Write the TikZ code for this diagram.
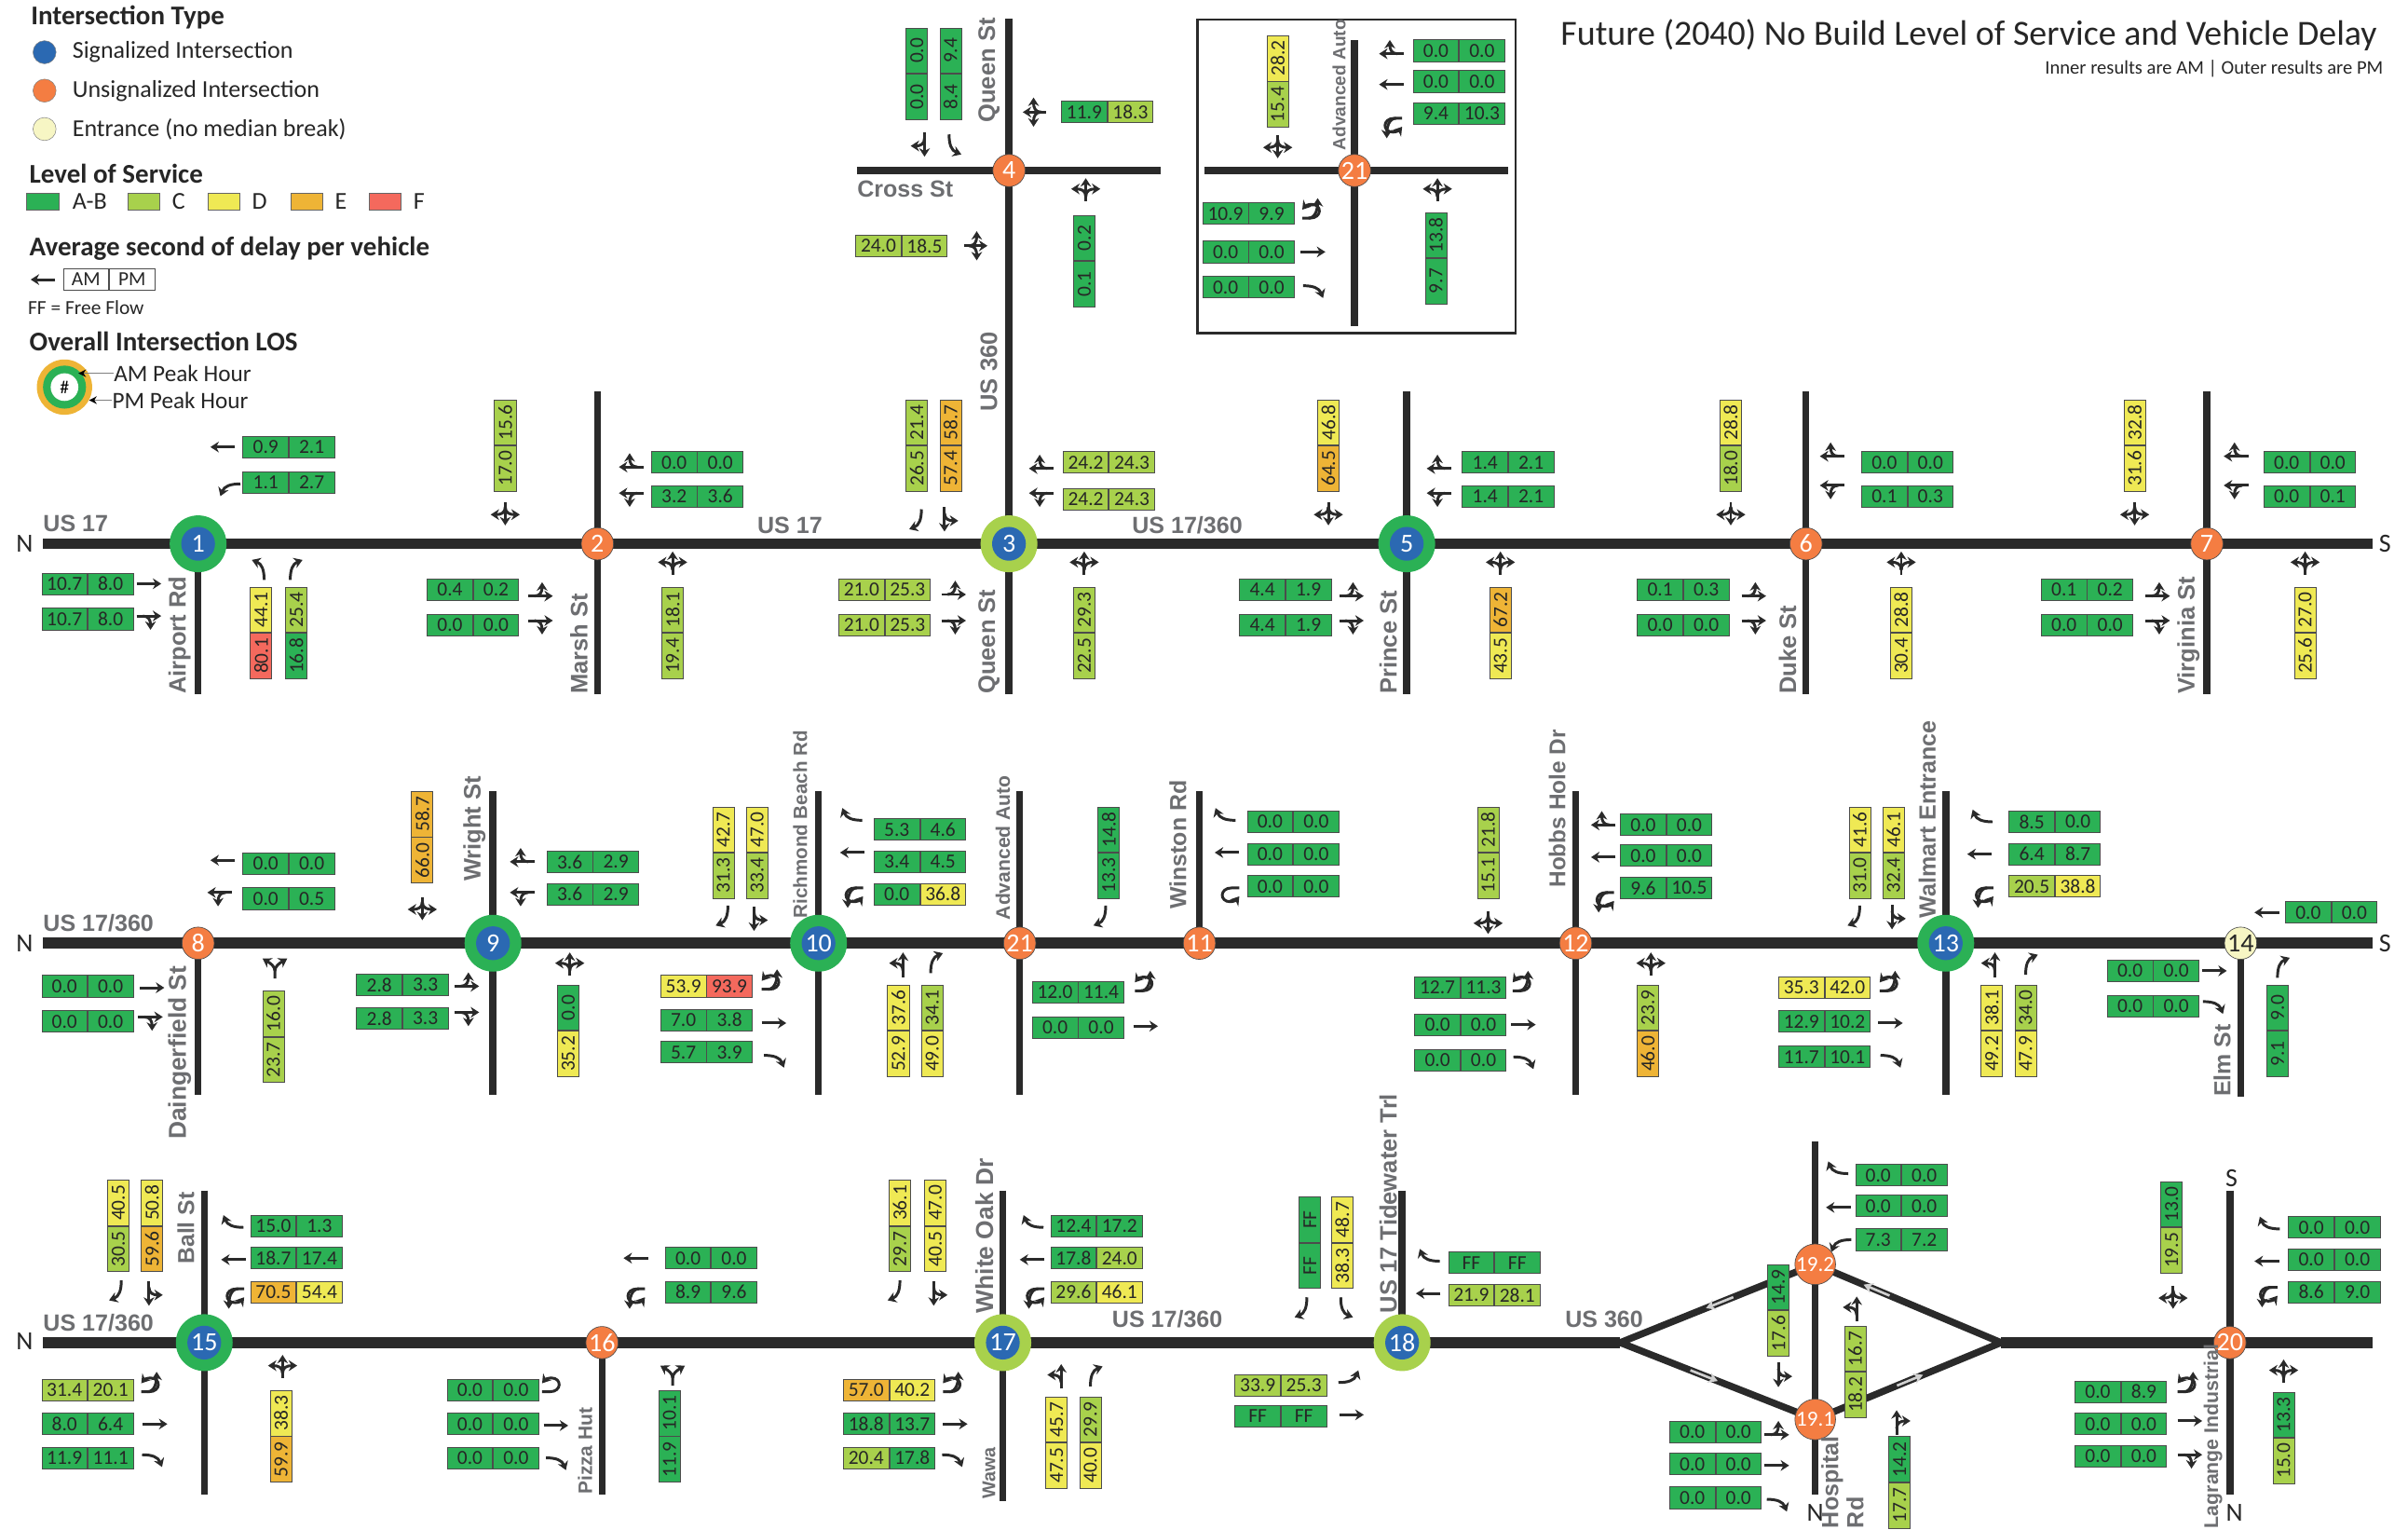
\documentclass[tikz,border=0pt]{standalone}
\usepackage{fontspec}
\setmainfont{Carlito}
\newfontfamily\roadfont{Liberation Sans}
\usetikzlibrary{arrows.meta,calc}
\definecolor{losG}{HTML}{2BB155}
\definecolor{losC}{HTML}{A8D14C}
\definecolor{losD}{HTML}{EFE954}
\definecolor{losE}{HTML}{EEB436}
\definecolor{losF}{HTML}{F4695D}
\definecolor{losW}{HTML}{FFFFFF}
\definecolor{sigblue}{HTML}{2B69B2}
\definecolor{unsig}{HTML}{F47D42}
\definecolor{cream}{HTML}{F7F6C4}
\definecolor{roadc}{HTML}{2A2A2A}
\definecolor{labc}{HTML}{6D6E71}
\newcommand\fsz[1]{\fontsize{#1}{#1}\selectfont}
\newcounter{itemno}
\newcommand\hcell[6]{\stepcounter{itemno}%
  \node[cell,fill=los#3,anchor=east] (c\theitemno a) at (#1,#2) {#4};%
  \node[cell,fill=los#5,anchor=west] (c\theitemno b) at (#1,#2) {#6};}
\newcommand\vcell[6]{\stepcounter{itemno}%
  \node[cell,rotate=90,fill=los#3,anchor=east] (c\theitemno a) at (#1,#2) {#4};%
  \node[cell,rotate=90,fill=los#5,anchor=west] (c\theitemno b) at (#1,#2) {#6};}
\newcommand\rlab[4]{\stepcounter{itemno}%
  \node[roadlab,rotate=90,anchor=west,font=\roadfont\bfseries\fsz{#3}] (r\theitemno) at (#1,#2) {#4};}
\newcommand\hlab[4]{\stepcounter{itemno}%
  \node[roadlab,anchor=west,font=\roadfont\bfseries\fsz{#3}] (r\theitemno) at (#1,#2) {#4};}
\def\rotN{0}\def\rotW{90}\def\rotS{180}\def\rotE{-90}
\newcommand\mvg[4]{\begin{scope}[shift={(#1,#2)},rotate=\csname rot#3\endcsname]\csname mvp#4\endcsname\end{scope}}
\def\mvpT{\draw[mvl] (0,8) -- (0,-8);}
\def\mvpl{\draw[mvl] (4,6.5) .. controls (4,0) and (2.5,-4) .. (-4,-6.5);}
\def\mvpr{\draw[mvl] (-4,6.5) .. controls (-4,0) and (-2.5,-4) .. (4,-6.5);}
\def\mvpTLR{\draw[mvl] (0,7) -- (0,-8);
  \draw[mvl] (0,4) .. controls (0,0) and (-3,-1) .. (-9.5,-1);
  \draw[mvl] (0,4) .. controls (0,0) and (3,-1) .. (9.5,-1);}
\def\mvpTL{\begin{scope}[shift={(4,0)}]\draw[mvl] (0,8) -- (0,-8);
  \draw[mvl] (0,4) .. controls (0,0) and (-3,-1) .. (-9,-1);\end{scope}}
\def\mvpTR{\begin{scope}[shift={(-4,0)}]\draw[mvl] (0,8) -- (0,-8);
  \draw[mvl] (0,4) .. controls (0,0) and (3,-1) .. (9,-1);\end{scope}}
\def\mvpUL{\draw[mvl] (4,7) -- (4,2) .. controls (4,-6) and (-5,-6) .. (-5,1) .. controls (-5,3) and (-4,5) .. (-1.5,7);
  \draw[mvl] (4,3) .. controls (4,-2) and (-3,-3) .. (-9,-3);}
\def\mvpU{\draw[mvl] (4,7) -- (4,2) .. controls (4,-6) and (-5,-6) .. (-5,1) .. controls (-5,3) and (-4,5) .. (-1.5,7);}
\def\mvpY{\draw[mvl] (0,7) -- (0,2) .. controls (0,-1) and (-3,-3) .. (-8,-6);
  \draw[mvl] (0,2) .. controls (0,-1) and (3,-3) .. (8,-6);}
\begin{document}
\begin{tikzpicture}[x=1pt,y=-1pt,
  cell/.style={draw=black!70,line width=0.5pt,minimum width=29.5pt,minimum height=14pt,inner sep=0pt,text=black!85,font=\fsz{13}},
  roadlab/.style={text=labc,inner sep=0pt},
  mainroad/.style={line width=7pt,roadc},
  minorroad/.style={line width=4.5pt,roadc},
  ramp/.style={line width=4.5pt,roadc},
  mvl/.style={line width=1.8pt,roadc,-{Stealth[length=5.5pt,width=7pt]}},
  gar/.style={line width=1.6pt,black!18,-{Stealth[length=6pt,width=7pt]}},
  unsignode/.style={circle,fill=unsig,draw=black!70,line width=0.4pt,minimum size=21pt,inner sep=0pt,text=white,font=\fsz{17}},
  signode/.style={circle,fill=sigblue,minimum size=22pt,inner sep=0pt,text=white,font=\fsz{17}},
  ringG/.style={circle,fill=losG,minimum size=37pt,inner sep=0pt},
  ringC/.style={circle,fill=losC,minimum size=37pt,inner sep=0pt},
  legtext/.style={anchor=west,inner sep=0pt,text=black!85,font=\fsz{15.8}},
  leghead/.style={anchor=west,inner sep=0pt,text=black!85,font=\bfseries\fsz{17.6}},
  swatch/.style={draw=black!60,line width=0.4pt,minimum width=21pt,minimum height=11pt,inner sep=0pt,anchor=west},
  dirlab/.style={inner sep=0pt,text=black!85,font=\fsz{17}},
  frame/.style={draw=roadc,line width=1.6pt}]
\fill[white] (0,0) rectangle (1568,995.4);
\useasboundingbox (0,0) rectangle (1568,995.4);

% ---------- road geometry
\coordinate (p1) at (129,354); \coordinate (p2) at (389,354); \coordinate (p3) at (657,354);
\coordinate (p4) at (657,111); \coordinate (p5) at (916,354); \coordinate (p6) at (1176,354);
\coordinate (p7) at (1437,354); \coordinate (p8) at (129,614); \coordinate (p9) at (321,614);
\coordinate (p10) at (533,614); \coordinate (p21) at (664,614); \coordinate (p11) at (781,614);
\coordinate (p12) at (1026,614); \coordinate (p13) at (1267,614); \coordinate (p14) at (1459,614);
\coordinate (p15) at (133,874); \coordinate (p16) at (392,874); \coordinate (p17) at (653,874);
\coordinate (p18) at (913,874); \coordinate (p192) at (1182,823); \coordinate (p191) at (1182,924);
\coordinate (p20) at (1452,874); \coordinate (pi21) at (882,111);
\coordinate (dL) at (1055,874); \coordinate (dR) at (1303,874);
\coordinate (m1a) at (28,354); \coordinate (m1b) at (1545,354);
\coordinate (m2a) at (28,614); \coordinate (m2b) at (1545,614);
\coordinate (m3a) at (28,874); \coordinate (m3b) at (1545,874);

\draw[mainroad] (m1a) -- (m1b);
\draw[mainroad] (m2a) -- (m2b);
\draw[mainroad] (m3a) -- (dL);
\draw[mainroad] (dR) -- (m3b);
\draw[ramp,line join=miter] (dL) -- (p192) -- (dR) -- (p191) -- cycle;
\draw[gar] ($(p192)!0.42!(dL)$) -- ($(p192)!0.56!(dL)$);
\draw[gar] ($(dL)!0.36!(p191)$) -- ($(dL)!0.50!(p191)$);
\draw[gar] ($(dR)!0.60!(p192)$) -- ($(dR)!0.74!(p192)$);
\draw[gar] ($(p191)!0.44!(dR)$) -- ($(p191)!0.58!(dR)$);

\foreach \xx/\ya/\yb in {129/354/452,389/255/452,657/12/452,916/255/452,1176/255/452,1437/255/452,
  129/614/713,321/515/713,533/515/713,664/515/713,781/515/614,1026/515/713,1267/515/713,1459/614/714,
  133/775/973,392/874/973,653/775/977,913/775/874,1182/743/973,1452/775/973}
  {\draw[minorroad] (\xx,\ya) -- (\xx,\yb);}
\coordinate (cw) at (558,111); \coordinate (ce) at (756,111);
\draw[minorroad] (cw) -- (ce);
\node[frame,anchor=north west,minimum width=207pt,minimum height=204pt,inner sep=0pt] (inset) at (779,12) {};
\coordinate (iw) at (784,111); \coordinate (ie) at (982,111); \coordinate (in) at (882,26); \coordinate (is) at (882,212);
\draw[minorroad] (iw) -- (ie);
\draw[minorroad] (in) -- (is);

% ---------- intersection nodes
\node[ringG] (o1) at (p1) {}; \node[signode] (n1) at (p1) {1};
\node[unsignode] (n2) at (p2) {2};
\node[ringC] (o3) at (p3) {}; \node[signode] (n3) at (p3) {3};
\node[unsignode] (n4) at (p4) {4};
\node[ringG] (o5) at (p5) {}; \node[signode] (n5) at (p5) {5};
\node[unsignode] (n6) at (p6) {6};
\node[unsignode] (n7) at (p7) {7};
\node[unsignode] (n8) at (p8) {8};
\node[ringG] (o9) at (p9) {}; \node[signode] (n9) at (p9) {9};
\node[ringG] (o10) at (p10) {}; \node[signode] (n10) at (p10) {10};
\node[unsignode] (n21b) at (p21) {21};
\node[unsignode] (n11) at (p11) {11};
\node[unsignode] (n12) at (p12) {12};
\node[ringG] (o13) at (p13) {}; \node[signode] (n13) at (p13) {13};
\node[unsignode,fill=cream,text=black!85] (n14) at (p14) {14};
\node[ringG] (o15) at (p15) {}; \node[signode] (n15) at (p15) {15};
\node[unsignode] (n16) at (p16) {16};
\node[ringC] (o17) at (p17) {}; \node[signode] (n17) at (p17) {17};
\node[ringC] (o18) at (p18) {}; \node[signode] (n18) at (p18) {18};
\node[unsignode,font=\fsz{14}] (n192) at (p192) {19.2};
\node[unsignode,font=\fsz{14}] (n191) at (p191) {19.1};
\node[unsignode] (n20) at (p20) {20};
\node[unsignode] (n21) at (pi21) {21};

% ---------- legend
\node[leghead] (l1) at (20,11) {Intersection Type};
\node[circle,fill=sigblue,draw=black!50,line width=0.3pt,minimum size=15pt,inner sep=0pt] (k1) at (29,34) {};
\node[circle,fill=unsig,draw=black!50,line width=0.3pt,minimum size=15pt,inner sep=0pt] (k2) at (29,59) {};
\node[circle,fill=cream,draw=black!50,line width=0.3pt,minimum size=15pt,inner sep=0pt] (k3) at (29,84) {};
\node[legtext] (t1) at (47,34) {Signalized Intersection};
\node[legtext] (t2) at (47,59) {Unsignalized Intersection};
\node[legtext] (t3) at (47,84) {Entrance (no median break)};
\node[leghead] (l2) at (19,113) {Level of Service};
\node[swatch,fill=losG] (s1) at (17,131) {}; \node[legtext] (s1t) at (47,131) {A-B};
\node[swatch,fill=losC] (s2) at (83,131) {}; \node[legtext] (s2t) at (112,131) {C};
\node[swatch,fill=losD] (s3) at (135,131) {}; \node[legtext] (s3t) at (164,131) {D};
\node[swatch,fill=losE] (s4) at (189,131) {}; \node[legtext] (s4t) at (218,131) {E};
\node[swatch,fill=losF] (s5) at (240,131) {}; \node[legtext] (s5t) at (269,131) {F};
\node[leghead] (l3) at (19,162) {Average second of delay per vehicle};
\mvg{28}{182}{W}{T}
\hcell{71}{182}{W}{AM}{W}{PM}
\node[anchor=west,inner sep=0pt,text=black!85,font=\fsz{13}] (ff) at (18,200) {FF = Free Flow};
\node[leghead] (l4) at (19,222) {Overall Intersection LOS};
\node[circle,fill=losE,minimum size=36pt,inner sep=0pt] (q1) at (42,252) {};
\node[circle,fill=losG,minimum size=28pt,inner sep=0pt] (q2) at (42,252) {};
\node[circle,fill=white,minimum size=18pt,inner sep=0pt,font=\fsz{12}] (q3) at (42,252) {\#};
\node[legtext,font=\fsz{15.3}] (am) at (74,243) {AM Peak Hour};
\node[legtext,font=\fsz{15.3}] (pm) at (73,260.5) {PM Peak Hour};
\coordinate (amt) at (51,243); \coordinate (pmt) at (58,260.5);
\draw[black!50,line width=0.7pt,-{Stealth[length=5pt,width=5pt,black]}] (am.west) -- (amt);
\draw[black!50,line width=0.7pt,-{Stealth[length=5pt,width=5pt,black]}] (pm.west) -- (pmt);
\node[anchor=east,inner sep=0pt,text=black!85,font=\fsz{23}] (title) at (1548,23) {Future (2040) No Build Level of Service and Vehicle Delay};
\node[anchor=east,inner sep=0pt,text=black!85,font=\fsz{12.5}] (sub) at (1552,45) {Inner results are AM | Outer results are PM};

% ---------- direction letters
\node[dirlab] (d1) at (16,354) {N}; \node[dirlab] (d2) at (1553,354) {S};
\node[dirlab] (d3) at (16,614) {N}; \node[dirlab] (d4) at (1553,614) {S};
\node[dirlab] (d5) at (16,873) {N}; \node[dirlab] (d6) at (1453,767) {S};
\node[dirlab] (d7) at (1455,985) {N}; \node[dirlab] (d8) at (1182,985) {N};

% ---------- road labels
\hlab{28}{341}{15.2}{US 17} \hlab{493}{342}{15.2}{US 17} \hlab{737}{342}{15.2}{US 17/360}
\hlab{28}{601}{15.2}{US 17/360} \hlab{28}{861}{15.2}{US 17/360} \hlab{724}{859}{15.2}{US 17/360}
\hlab{1019}{859}{15.2}{US 360} \hlab{558}{123}{15.2}{Cross St}
\rlab{117}{452}{15.5}{Airport Rd} \rlab{377}{452}{15.5}{Marsh St} \rlab{644}{452}{15.5}{Queen St}
\rlab{644}{80}{15.5}{Queen St} \rlab{644}{268}{15.5}{US 360} \rlab{904}{452}{15.5}{Prince St}
\rlab{1164}{452}{15.5}{Duke St} \rlab{1425}{452}{15.5}{Virginia St}
\rlab{872}{98}{11.6}{Advanced Auto}
\rlab{117}{742}{16}{Daingerfield St} \rlab{309}{574}{15.5}{Wright St} \rlab{521}{598}{12.5}{Richmond Beach Rd}
\rlab{653}{599}{12.8}{Advanced Auto} \rlab{767}{592}{15.1}{Winston Rd} \rlab{1014}{578}{14.8}{Hobbs Hole Dr}
\rlab{1255}{598}{15.2}{Walmart Entrance} \rlab{1447}{714}{15.1}{Elm St}
\rlab{121}{823}{15}{Ball St} \rlab{381}{973}{12.7}{Pizza Hut} \rlab{641}{855}{16}{White Oak Dr}
\rlab{644}{976}{12}{Wawa} \rlab{904}{855}{15.5}{US 17 Tidewater Trl}
\rlab{1193}{995}{15.2}{Hospital} \rlab{1208}{995}{15.2}{Rd} \rlab{1441}{995}{12.9}{Lagrange Industrial}

% ---------- row 1
\hcell{188}{291}{G}{0.9}{G}{2.1} \hcell{188}{314}{G}{1.1}{G}{2.7}
\hcell{57}{380}{G}{10.7}{G}{8.0} \hcell{57}{403}{G}{10.7}{G}{8.0}
\vcell{170}{412}{F}{80.1}{D}{44.1} \vcell{193}{412}{G}{16.8}{C}{25.4}
\vcell{329}{290}{C}{17.0}{C}{15.6}
\hcell{454}{301}{G}{0.0}{G}{0.0} \hcell{454}{323}{G}{3.2}{G}{3.6}
\hcell{308}{384}{G}{0.4}{G}{0.2} \hcell{308}{407}{G}{0.0}{G}{0.0}
\vcell{438}{412}{C}{19.4}{C}{18.1}
\vcell{597}{290}{C}{26.5}{C}{21.4} \vcell{619}{290}{E}{57.4}{E}{58.7}
\hcell{722}{301}{C}{24.2}{C}{24.3} \hcell{722}{325}{C}{24.2}{C}{24.3}
\hcell{576}{384}{C}{21.0}{C}{25.3} \hcell{576}{407}{C}{21.0}{C}{25.3}
\vcell{706}{412}{C}{22.5}{C}{29.3}
\vcell{865}{290}{E}{64.5}{D}{46.8}
\hcell{982}{301}{G}{1.4}{G}{2.1} \hcell{982}{323}{G}{1.4}{G}{2.1}
\hcell{837}{384}{G}{4.4}{G}{1.9} \hcell{837}{407}{G}{4.4}{G}{1.9}
\vcell{977}{412}{D}{43.5}{E}{67.2}
\vcell{1127}{290}{C}{18.0}{D}{28.8}
\hcell{1242}{301}{G}{0.0}{G}{0.0} \hcell{1242}{323}{G}{0.1}{G}{0.3}
\hcell{1096}{384}{G}{0.1}{G}{0.3} \hcell{1096}{407}{G}{0.0}{G}{0.0}
\vcell{1238}{412}{D}{30.4}{D}{28.8}
\vcell{1390}{290}{D}{31.6}{D}{32.8}
\hcell{1504}{301}{G}{0.0}{G}{0.0} \hcell{1504}{323}{G}{0.0}{G}{0.1}
\hcell{1359}{384}{G}{0.1}{G}{0.2} \hcell{1359}{407}{G}{0.0}{G}{0.0}
\vcell{1501}{412}{D}{25.6}{D}{27.0}
% top
\vcell{597}{48}{G}{0.0}{G}{0.0} \vcell{619}{48}{G}{8.4}{G}{9.4}
\hcell{721}{73}{G}{11.9}{C}{18.3} \hcell{587}{160}{C}{24.0}{C}{18.5}
\vcell{706}{170}{G}{0.1}{G}{0.2}
% inset
\vcell{832}{53}{C}{15.4}{D}{28.2}
\hcell{950}{33}{G}{0.0}{G}{0.0} \hcell{950}{53}{G}{0.0}{G}{0.0} \hcell{950}{74}{G}{9.4}{G}{10.3}
\hcell{813}{139}{G}{10.9}{G}{9.9} \hcell{813}{164}{G}{0.0}{G}{0.0} \hcell{813}{187}{G}{0.0}{G}{0.0}
\vcell{935}{168}{G}{9.7}{G}{13.8}
% ---------- row 2
\hcell{188}{562}{G}{0.0}{G}{0.0} \hcell{188}{585}{G}{0.0}{G}{0.5}
\hcell{57}{642}{G}{0.0}{G}{0.0} \hcell{57}{665}{G}{0.0}{G}{0.0}
\vcell{178}{675}{C}{23.7}{C}{16.0}
\vcell{275}{545}{E}{66.0}{E}{58.7}
\hcell{386}{561}{G}{3.6}{G}{2.9} \hcell{386}{582}{G}{3.6}{G}{2.9}
\hcell{262}{641}{G}{2.8}{G}{3.3} \hcell{262}{663}{G}{2.8}{G}{3.3}
\vcell{370}{671}{D}{35.2}{G}{0.0}
\vcell{471}{555}{C}{31.3}{D}{42.7} \vcell{493}{555}{C}{33.4}{D}{47.0}
\hcell{599}{540}{G}{5.3}{G}{4.6} \hcell{599}{561}{G}{3.4}{G}{4.5} \hcell{599}{582}{G}{0.0}{D}{36.8}
\hcell{460}{642}{D}{53.9}{F}{93.9} \hcell{460}{664}{G}{7.0}{G}{3.8} \hcell{460}{685}{G}{5.7}{G}{3.9}
\vcell{585}{671}{D}{52.9}{D}{37.6} \vcell{607}{671}{D}{49.0}{C}{34.1}
\vcell{722}{555}{G}{13.3}{G}{14.8}
\hcell{702}{646}{G}{12.0}{G}{11.4} \hcell{702}{669}{G}{0.0}{G}{0.0}
\hcell{842}{535}{G}{0.0}{G}{0.0} \hcell{842}{556}{G}{0.0}{G}{0.0} \hcell{842}{577}{G}{0.0}{G}{0.0}
\vcell{969}{555}{C}{15.1}{C}{21.8}
\hcell{1085}{537}{G}{0.0}{G}{0.0} \hcell{1085}{557}{G}{0.0}{G}{0.0} \hcell{1085}{578}{G}{9.6}{G}{10.5}
\hcell{951}{643}{G}{12.7}{G}{11.3} \hcell{951}{667}{G}{0.0}{G}{0.0} \hcell{951}{690}{G}{0.0}{G}{0.0}
\vcell{1073}{671}{E}{46.0}{C}{23.9}
\vcell{1211}{555}{C}{31.0}{D}{41.6} \vcell{1233}{555}{C}{32.4}{D}{46.1}
\hcell{1338}{535}{G}{8.5}{G}{0.0} \hcell{1338}{556}{G}{6.4}{G}{8.7} \hcell{1338}{577}{C}{20.5}{D}{38.8}
\hcell{1188}{643}{D}{35.3}{D}{42.0} \hcell{1188}{665}{G}{12.9}{G}{10.2} \hcell{1188}{688}{G}{11.7}{G}{10.1}
\vcell{1297}{671}{D}{49.2}{D}{38.1} \vcell{1319}{671}{D}{47.9}{C}{34.0}
\hcell{1518}{594}{G}{0.0}{G}{0.0}
\hcell{1402}{632}{G}{0.0}{G}{0.0} \hcell{1402}{655}{G}{0.0}{G}{0.0}
\vcell{1483}{671}{G}{9.1}{G}{9.0}
% ---------- row 3
\vcell{77}{798}{C}{30.5}{D}{40.5} \vcell{99}{798}{E}{59.6}{D}{50.8}
\hcell{193}{798}{G}{15.0}{G}{1.3} \hcell{193}{819}{G}{18.7}{G}{17.4} \hcell{193}{841}{E}{70.5}{D}{54.4}
\hcell{57}{905}{C}{31.4}{C}{20.1} \hcell{57}{927}{G}{8.0}{G}{6.4} \hcell{57}{949}{G}{11.9}{G}{11.1}
\vcell{183}{935}{E}{59.9}{D}{38.3}
\hcell{463}{819}{G}{0.0}{G}{0.0} \hcell{463}{841}{G}{8.9}{G}{9.6}
\hcell{321}{905}{G}{0.0}{G}{0.0} \hcell{321}{927}{G}{0.0}{G}{0.0} \hcell{321}{949}{G}{0.0}{G}{0.0}
\vcell{436}{935}{G}{11.9}{G}{10.1}
\vcell{586}{798}{C}{29.7}{D}{36.1} \vcell{609}{798}{D}{40.5}{D}{47.0}
\hcell{714}{798}{G}{12.4}{G}{17.2} \hcell{714}{819}{G}{17.8}{C}{24.0} \hcell{714}{841}{C}{29.6}{D}{46.1}
\hcell{579}{905}{E}{57.0}{D}{40.2} \hcell{579}{927}{G}{18.8}{G}{13.7} \hcell{579}{949}{C}{20.4}{G}{17.8}
\vcell{688}{939}{D}{47.5}{D}{45.7} \vcell{710}{939}{D}{40.0}{C}{29.9}
\vcell{853}{809}{G}{FF}{G}{FF} \vcell{874}{809}{D}{38.3}{D}{48.7}
\hcell{973}{822}{G}{FF}{G}{FF} \hcell{973}{843}{C}{21.9}{C}{28.1}
\hcell{834}{902}{C}{33.9}{C}{25.3} \hcell{834}{922}{G}{FF}{G}{FF}
\hcell{1238}{765}{G}{0.0}{G}{0.0} \hcell{1238}{785}{G}{0.0}{G}{0.0} \hcell{1238}{807}{G}{7.3}{G}{7.2}
\vcell{1158}{853}{C}{17.6}{G}{14.9} \vcell{1208}{893}{C}{18.2}{C}{16.7} \vcell{1237}{965}{C}{17.7}{G}{14.2}
\hcell{1117}{932}{G}{0.0}{G}{0.0} \hcell{1117}{953}{G}{0.0}{G}{0.0} \hcell{1117}{975}{G}{0.0}{G}{0.0}
\hcell{1520}{799}{G}{0.0}{G}{0.0} \hcell{1520}{820}{G}{0.0}{G}{0.0} \hcell{1520}{841}{G}{8.6}{G}{9.0}
\vcell{1414}{799}{C}{19.5}{G}{13.0}
\hcell{1381}{906}{G}{0.0}{G}{8.9} \hcell{1381}{927}{G}{0.0}{G}{0.0} \hcell{1381}{948}{G}{0.0}{G}{0.0}
\vcell{1487}{936}{C}{15.0}{G}{13.3}

% ---------- movement glyphs, row 1
\mvg{145}{291}{W}{T} \mvg{150}{319}{W}{l} \mvg{97}{380}{E}{T} \mvg{97}{405}{E}{TR}
\mvg{168}{371}{N}{l} \mvg{193}{371}{N}{r}
\mvg{411}{300}{W}{TR} \mvg{411}{325}{W}{TL} \mvg{329}{334}{S}{TLR} \mvg{438}{367}{N}{TLR}
\mvg{352}{384}{E}{TL} \mvg{352}{408}{E}{TR}
\mvg{596}{338}{S}{r} \mvg{619}{338}{S}{TL} \mvg{678}{301}{W}{TR} \mvg{678}{325}{W}{TL}
\mvg{706}{367}{N}{TLR} \mvg{621}{383}{E}{TL} \mvg{621}{408}{E}{TR}
\mvg{865}{334}{S}{TLR} \mvg{937}{301}{W}{TR} \mvg{937}{325}{W}{TL} \mvg{977}{367}{N}{TLR}
\mvg{880}{384}{E}{TL} \mvg{880}{408}{E}{TR}
\mvg{1127}{334}{S}{TLR} \mvg{1193}{293}{W}{TR} \mvg{1193}{320}{W}{TL} \mvg{1238}{367}{N}{TLR}
\mvg{1142}{384}{E}{TL} \mvg{1142}{408}{E}{TR}
\mvg{1390}{334}{S}{TLR} \mvg{1456}{293}{W}{TR} \mvg{1456}{320}{W}{TL} \mvg{1501}{367}{N}{TLR}
\mvg{1405}{384}{E}{TL} \mvg{1405}{408}{E}{TR}
% top and inset
\mvg{598}{94}{S}{TR} \mvg{622}{94}{S}{l} \mvg{674}{73}{W}{TLR} \mvg{707}{124}{N}{TLR} \mvg{635}{160}{E}{TLR}
\mvg{832}{95}{S}{TLR} \mvg{906}{31}{W}{TR} \mvg{906}{55}{W}{T} \mvg{906}{81}{W}{UL}
\mvg{855}{138}{E}{UL} \mvg{855}{164}{E}{T} \mvg{855}{190}{E}{r} \mvg{936}{124}{N}{TLR}
% row 2
\mvg{145}{560}{W}{T} \mvg{143}{585}{W}{TL} \mvg{99}{643}{E}{T} \mvg{98}{666}{E}{TR} \mvg{179}{630}{N}{Y}
\mvg{275}{591}{S}{TLR} \mvg{340}{557}{W}{TR} \mvg{340}{585}{W}{TL} \mvg{371}{628}{N}{TLR}
\mvg{304}{638}{E}{TL} \mvg{304}{663}{E}{TR}
\mvg{470}{596}{S}{r} \mvg{495}{598}{S}{TL} \mvg{555}{530}{W}{r} \mvg{555}{555}{W}{T} \mvg{555}{582}{W}{UL}
\mvg{503}{640}{E}{UL} \mvg{504}{666}{E}{T} \mvg{504}{691}{E}{r} \mvg{584}{628}{N}{TL} \mvg{610}{627}{N}{r}
\mvg{716}{596}{S}{r} \mvg{746}{641}{E}{UL} \mvg{746}{668}{E}{T}
\mvg{798}{530}{W}{r} \mvg{799}{555}{W}{T} \mvg{800}{582}{W}{U}
\mvg{969}{600}{S}{TLR} \mvg{1044}{533}{W}{TR} \mvg{1044}{558}{W}{T} \mvg{1044}{585}{W}{UL} \mvg{1075}{628}{N}{TLR}
\mvg{992}{641}{E}{UL} \mvg{992}{667}{E}{T} \mvg{992}{692}{E}{r}
\mvg{1207}{596}{S}{r} \mvg{1236}{597}{S}{TL} \mvg{1291}{531}{W}{r} \mvg{1289}{556}{W}{T} \mvg{1291}{582}{W}{UL}
\mvg{1295}{628}{N}{TL} \mvg{1323}{628}{N}{r} \mvg{1231}{641}{E}{UL} \mvg{1231}{666}{E}{T} \mvg{1231}{691}{E}{r}
\mvg{1476}{594}{W}{T} \mvg{1442}{632}{E}{T} \mvg{1441}{656}{E}{r} \mvg{1487}{630}{N}{r}
% row 3
\mvg{75}{840}{S}{r} \mvg{101}{842}{S}{TL} \mvg{152}{795}{W}{r} \mvg{152}{820}{W}{T} \mvg{152}{843}{W}{UL}
\mvg{99}{902}{E}{UL} \mvg{101}{927}{E}{T} \mvg{99}{951}{E}{r} \mvg{184}{890}{N}{TLR}
\mvg{414}{819}{W}{T} \mvg{413}{843}{W}{UL} \mvg{438}{895}{N}{Y} \mvg{360}{902}{E}{U} \mvg{362}{928}{E}{T} \mvg{362}{953}{E}{r}
\mvg{582}{840}{S}{r} \mvg{612}{842}{S}{TL} \mvg{673}{795}{W}{r} \mvg{672}{820}{W}{T} \mvg{673}{843}{W}{UL}
\mvg{621}{902}{E}{UL} \mvg{622}{927}{E}{T} \mvg{620}{951}{E}{r} \mvg{687}{896}{N}{TL} \mvg{714}{896}{N}{r}
\mvg{847}{851}{S}{r} \mvg{877}{851}{S}{l} \mvg{931}{817}{W}{r} \mvg{930}{842}{W}{T} \mvg{878}{896}{E}{l} \mvg{880}{921}{E}{T}
\mvg{1197}{760}{W}{r} \mvg{1197}{786}{W}{T} \mvg{1199}{811}{W}{l}
\mvg{1162}{895}{S}{TL} \mvg{1205}{852}{N}{TL} \mvg{1239}{926}{N}{TR}
\mvg{1157}{930}{E}{TL} \mvg{1157}{954}{E}{T} \mvg{1157}{980}{E}{r}
\mvg{1415}{844}{S}{TLR} \mvg{1478}{796}{W}{r} \mvg{1476}{821}{W}{T} \mvg{1476}{842}{W}{UL} \mvg{1487}{893}{N}{TLR}
\mvg{1425}{902}{E}{UL} \mvg{1426}{925}{E}{T} \mvg{1426}{951}{E}{TR}
\end{tikzpicture}
\end{document}
